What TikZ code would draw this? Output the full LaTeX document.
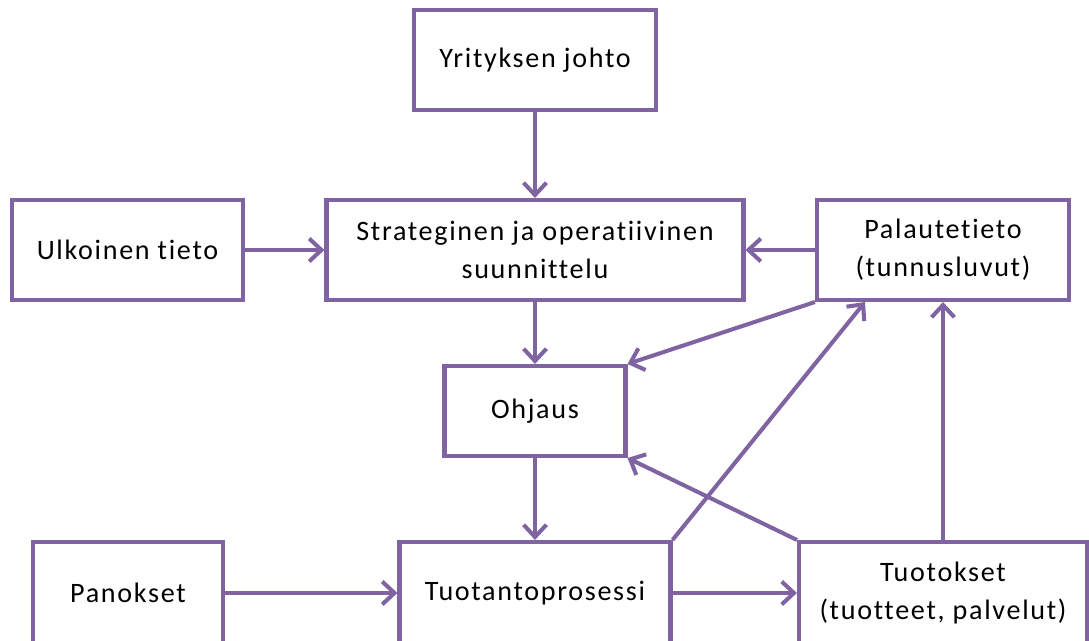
\documentclass[tikz,border=0pt]{standalone}
\usepackage{fontspec}
\setmainfont{Carlito}[LetterSpace=6,Ligatures=NoCommon]
\usetikzlibrary{arrows.meta}
\definecolor{violetti}{HTML}{8064A2}
\tikzstyle{laatikko}=[draw=violetti,line width=2.3pt,fill=white,align=center,inner sep=0pt,minimum height=2cm,font=\fontsize{16}{21.5}\selectfont]
\tikzstyle{nuoli}=[-{Straight Barb[length=7pt,width=13pt]},draw=violetti,line width=2.3pt]

\begin{document}
\begin{tikzpicture}
\useasboundingbox (0,0) rectangle (21.78,12.82);
\clip (0,0) rectangle (21.78,12.82);
% rivi 1 ja 2
\node[laatikko,minimum width=4.84cm] (johto) at (10.7,11.62) {Yrityksen johto};
\node[laatikko,minimum width=8.34cm] (strat) at (10.7,7.82) {Strateginen ja operatiivinen\\suunnittelu};
\node[laatikko,minimum width=4.62cm] (ulkoinen) at (2.55,7.82) {Ulkoinen tieto};
\node[laatikko,minimum width=5.04cm] (palaute) at (18.86,7.82) {Palautetieto\\(tunnusluvut)};
\node[laatikko,minimum width=3.62cm,minimum height=1.8cm] (ohjaus) at (10.7,4.6) {Ohjaus};
% alarivi, leikkautuu reunasta
\node[laatikko,minimum width=3.8cm,minimum height=2.04cm] (panokset) at (2.56,0.96) {Panokset};
\node[laatikko,minimum width=5.42cm,minimum height=2.04cm] (prosessi) at (10.7,0.96) {Tuotantoprosessi};
\node[laatikko,minimum width=5.76cm,minimum height=2.04cm] (tuotokset) at (18.86,0.96) {Tuotokset\\(tuotteet, palvelut)};

\draw[nuoli] (johto.south) -- (strat.north);
\draw[nuoli] (ulkoinen.east) -- (strat.west);
\draw[nuoli] (palaute.west) -- (strat.east);
\draw[nuoli] (strat.south) -- (ohjaus.north);
\draw[nuoli] (palaute.south west) -- (ohjaus.north east);
\draw[nuoli] (ohjaus.south) -- (prosessi.north);
\draw[nuoli] (panokset.east) -- (prosessi.west);
\draw[nuoli] (prosessi.east) -- (tuotokset.west);
\draw[nuoli] (prosessi.north east) -- ([xshift=1cm]palaute.south west);
\draw[nuoli] (tuotokset.north west) -- (ohjaus.south east);
\draw[nuoli] (tuotokset.north) -- (palaute.south);
\end{tikzpicture}
\end{document}
